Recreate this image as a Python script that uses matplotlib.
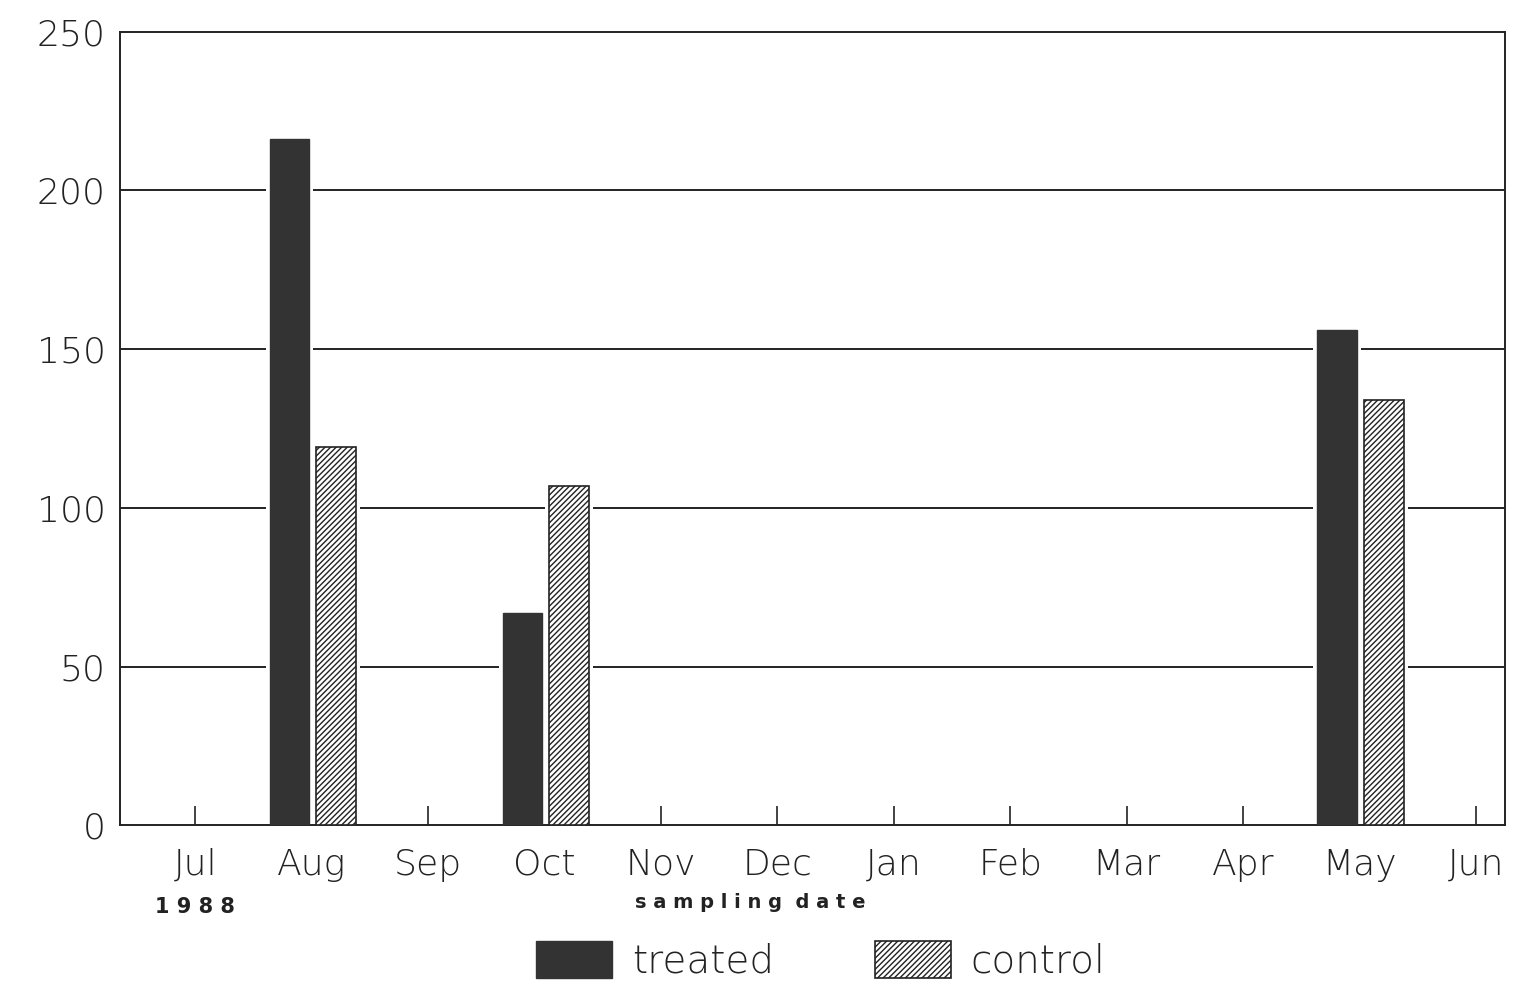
import matplotlib
matplotlib.use("Agg")
import matplotlib.pyplot as plt
import numpy as np

months = ["Jul", "Aug", "Sep", "Oct", "Nov", "Dec", "Jan", "Feb", "Mar", "Apr", "May", "Jun"]
treated = [0, 216, 0, 67, 0, 0, 0, 0, 0, 0, 156, 0]
control = [0, 119, 0, 107, 0, 0, 0, 0, 0, 0, 134, 0]
yticks = [0, 50, 100, 150, 200, 250]

plt.rcParams['font.family'] = ['DejaVu Sans']
plt.rcParams['hatch.linewidth'] = 1.0

fig = plt.figure(figsize=(15.34, 9.86), dpi=100)
ax = fig.add_axes([0.078, 0.163, 0.903, 0.805])

x = np.arange(len(months))
w = 0.34
t = np.array(treated)
c = np.array(control)
has = (t > 0) | (c > 0)

# white backing to break gridlines around bars
ax.bar(x[has] - w / 2 - 0.02, t[has], width=w + 0.07, color="white", zorder=2.5, linewidth=0)
ax.bar(x[has] + w / 2 + 0.04, c[has], width=w + 0.07, color="white", zorder=2.5, linewidth=0)
ax.bar(x[has] - w / 2 - 0.02, t[has], width=w, color="#333333", edgecolor="#333333", zorder=3, label="treated")
ax.bar(x[has] + w / 2 + 0.04, c[has], width=w, color="white", edgecolor="#222222",
       hatch="//////", linewidth=1.2, zorder=3, label="control")

ax.set_ylim(0, 250)
ax.set_xlim(-0.65, 11.25)
ax.set_yticks(yticks)
ax.set_yticklabels([str(v) for v in yticks], fontsize=26, fontweight="light", color="#222222")
ax.tick_params(axis="y", length=0, pad=10)
for v in yticks[1:-1]:
    ax.axhline(v, color="#222222", linewidth=1.4, zorder=1)

ax.set_xticks(x)
ax.set_xticklabels(months, fontsize=26, fontweight="light", color="#222222")
ax.tick_params(axis="x", direction="in", length=14, width=1.2, pad=16, colors="#222222")

for s in ax.spines.values():
    s.set_linewidth(1.4)
    s.set_color("#222222")

ax.text(0, -0.09, "1 9 8 8", transform=ax.get_xaxis_transform(), ha="center", va="top",
        fontsize=15, fontweight="bold", color="#222222")
ax.text(0.455, -0.085, "s a m p l i n g  d a t e", transform=ax.transAxes, ha="center", va="top",
        fontsize=14, fontweight="bold", color="#222222")

leg = fig.legend(loc="lower center", bbox_to_anchor=(0.535, -0.03), ncol=2, frameon=False,
                 handlelength=1.95, handleheight=1.1, columnspacing=2.6,
                 handletextpad=0.5, prop={"size": 28, "weight": "light"})
for txt in leg.get_texts():
    txt.set_color("#222222")

fig.savefig("out.png", dpi=100, facecolor="white")
